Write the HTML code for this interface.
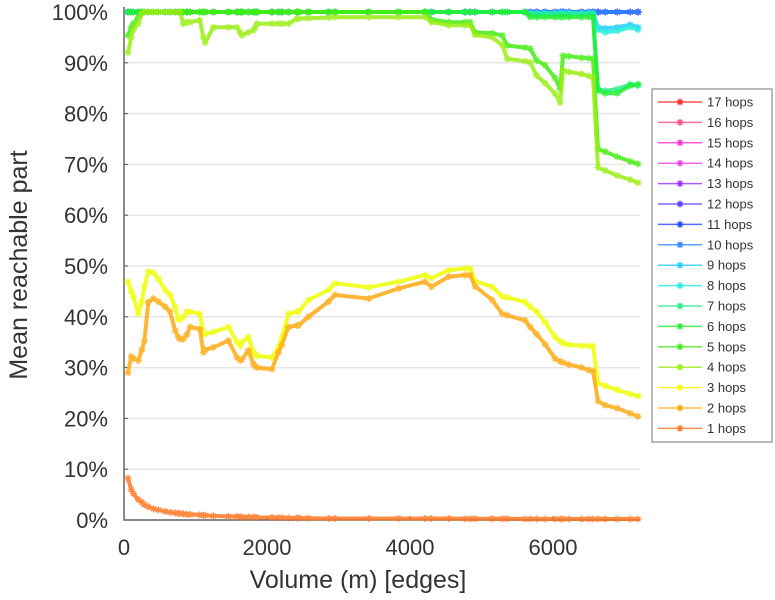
<!DOCTYPE html>
<html><head><meta charset="utf-8"><style>
html,body{margin:0;padding:0;background:#fff;}
svg{display:block;font-family:"Liberation Sans",sans-serif;}
</style></head><body>
<svg id="chart" width="775" height="600"></svg>
<script>
const volumes=[56,100,130,200,250,285,340,410,480,575,645,715,760,785,830,880,925,1060,1110,1135,1250,1460,1580,1625,1650,1740,1810,1835,1860,2070,2160,2210,2300,2420,2440,2580,2860,2950,3420,3840,4210,4300,4540,4770,4840,4910,5150,5290,5360,5610,5680,5770,5890,6030,6100,6140,6220,6400,6500,6560,6630,6730,6900,7080,7190];
const hops1=[8.2,6,5.2,4,3.5,3,2.6,2.2,2,1.7,1.5,1.4,1.3,1.3,1.2,1.1,1.1,1,0.9,0.9,0.8,0.7,0.7,0.6,0.6,0.6,0.55,0.55,0.5,0.5,0.45,0.45,0.4,0.4,0.4,0.35,0.3,0.3,0.3,0.3,0.3,0.3,0.3,0.25,0.25,0.25,0.25,0.25,0.25,0.2,0.2,0.2,0.2,0.2,0.2,0.2,0.2,0.2,0.2,0.2,0.2,0.2,0.2,0.2,0.2];
const hops2=[29,32.2,31.8,31.4,33.5,35.3,42.9,43.6,43,42,41,37.3,36,35.6,35.6,36.5,38,37.6,33,33.5,34,35.3,32,31.4,31.6,33.4,30.7,30.3,30,29.7,33,34.5,38,38.3,38.3,40,43,44.3,43.6,45.6,46.9,45.9,47.9,48.2,48.2,46,43.3,40.6,40.3,39.3,38,36.6,34.6,31.8,31.2,31,30.6,30,29.5,29.3,23.4,22.6,22,21,20.4];
const hops3=[46.9,45,44,40.6,43,46,48.9,48.7,47.5,45.3,44.3,42,39.5,39.5,40,41,41,40.6,37,36.6,37,38,35,34.3,35,36,33,32.6,32.3,32,34,36,40.6,41,41,43.3,45.3,46.6,45.8,46.9,48.2,47.6,49.2,49.5,49.5,47,45.9,44,43.8,42.9,42,41,38.9,36,35.2,34.8,34.5,34.3,34.3,34.2,27,26.4,25.6,24.8,24.4];
const hops4=[92,95,96.5,97.7,99.7,100,100,100,100,100,100,100,100,100,97.7,98,98,98.4,95,94,97,97,97,96,95.4,96,96.4,97,97.7,97.7,97.7,97.7,97.7,98.7,98.7,98.8,98.9,99,99,99,99,98,97.4,97.4,97.4,95.5,95,93.5,90.8,90.3,90.1,87.5,86,83.9,82.2,88.5,88.2,87.8,87.4,87.2,69.4,68.8,67.8,67,66.4];
const hops5=[95.4,97,97.7,99,100,100,100,100,100,100,100,100,100,100,100,100,100,100,100,100,100,100,100,100,100,100,100,100,100,100,100,100,100,100,100,100,100,100,100,100,100,98.5,98,98,98,96,95.8,95.4,93.4,93,92.8,90.5,89.5,87,84.9,91.4,91.3,91,90.9,90.8,73,72.5,71.5,70.6,70.1];
const hops6=[100,100,100,100,100,100,100,100,100,100,100,100,100,100,100,100,100,100,100,100,100,100,100,100,100,100,100,100,100,100,100,100,100,100,100,100,100,100,100,100,100,100,100,100,100,100,100,100,100,100,99,99,99,99,99,99,99,99,99,99,84.5,84,84,85.5,85.8];
const hops7=[100,100,100,100,100,100,100,100,100,100,100,100,100,100,100,100,100,100,100,100,100,100,100,100,100,100,100,100,100,100,100,100,100,100,100,100,100,100,100,100,100,100,100,100,100,100,100,100,100,100,99.5,99.5,99.5,99.5,99.5,99.5,99.5,99.5,99.5,99.5,84.8,84.5,84.8,85.8,85.5];
const hops8=[100,100,100,100,100,100,100,100,100,100,100,100,100,100,100,100,100,100,100,100,100,100,100,100,100,100,100,100,100,100,100,100,100,100,100,100,100,100,100,100,100,100,100,100,100,100,100,100,100,100,99.7,99.7,99.7,99.7,99.7,99.7,99.7,99.7,99.7,99.7,96.5,96,96.3,97,96.5];
const hops9=[100,100,100,100,100,100,100,100,100,100,100,100,100,100,100,100,100,100,100,100,100,100,100,100,100,100,100,100,100,100,100,100,100,100,100,100,100,100,100,100,100,100,100,100,100,100,100,100,100,100,99.8,99.8,99.8,99.8,99.8,99.8,99.8,99.8,99.8,99.8,97,96.8,97,97.5,97];
const hops10=[100,100,100,100,100,100,100,100,100,100,100,100,100,100,100,100,100,100,100,100,100,100,100,100,100,100,100,100,100,100,100,100,100,100,100,100,100,100,100,100,100,100,100,100,100,100,100,100,100,100,100,100,100,100,100,100,100,100,100,100,100,100,100,100,100];
const hops11=hops10.slice();
const hops12=hops10.slice();
const hops13=hops10.slice();
const hops14=hops10.slice();
const hops15=hops10.slice();
const hops16=hops10.slice();
const hops17=hops10.slice();
const seriesLabels=["17 hops","16 hops","15 hops","14 hops","13 hops","12 hops","11 hops","10 hops","9 hops","8 hops","7 hops","6 hops","5 hops","4 hops","3 hops","2 hops","1 hops"];
const seriesData=[hops17,hops16,hops15,hops14,hops13,hops12,hops11,hops10,hops9,hops8,hops7,hops6,hops5,hops4,hops3,hops2,hops1];
const seriesColors=["#ff2a2a","#ff4d88","#ff33cc","#ee44ee","#9933ff","#5544ff","#2244ff","#3388ff","#22ccff","#22eedd","#22ee88","#22ee33","#44ee11","#99ee11","#eeff00","#ffaa11","#ff7722"];
const xTicks=[0,2000,4000,6000];
const yTicks=[0,10,20,30,40,50,60,70,80,90,100];

const NS="http://www.w3.org/2000/svg";
const svg=document.getElementById('chart');
const X0=124,Y0=520;
function xs(v){return X0+v*0.0715;}
function ys(p){return Y0-p*5.08;}
function mk(tag,attrs,parent){const e=document.createElementNS(NS,tag);for(const k in attrs)e.setAttribute(k,attrs[k]);(parent||svg).appendChild(e);return e;}

const grid=mk('g',{});


yTicks.forEach(t=>{
  const l=mk('line',{x1:X0,x2:640,y1:ys(t),y2:ys(t),stroke:'#e6e6e6','stroke-width':1.5},grid);
  
  
  mk('line',{x1:X0,x2:X0+4,y1:ys(t),y2:ys(t),stroke:'#555','stroke-width':1},grid);
  const tx=mk('text',{x:108,y:ys(t)+8,'text-anchor':'end','font-size':22,fill:'#333'},grid);
  tx.textContent=t+'%';
  
  
});
xTicks.forEach(t=>{
  const tx=mk('text',{x:xs(t),y:555,'text-anchor':'middle','font-size':22,fill:'#333'},grid);
  tx.textContent=t;
  
  
  mk('line',{x1:xs(t),x2:xs(t),y1:Y0,y2:Y0-4,stroke:'#555','stroke-width':1},grid);
});
const ax=mk('path',{d:`M${X0} ${ys(101)} V${Y0} H640`,fill:'none',stroke:'#666','stroke-width':1.5});



function star(g,x,y,c,r){
  mk('path',{d:`M${x-r} ${y}H${x+r}M${x} ${y-r}V${y+r}M${x-r*0.7} ${y-r*0.7}L${x+r*0.7} ${y+r*0.7}M${x-r*0.7} ${y+r*0.7}L${x+r*0.7} ${y-r*0.7}`,stroke:c,'stroke-width':1.3},g);
}
seriesData.forEach((arr,i)=>{
  const g=mk('g',{opacity:0.85});
  
  
  const d=arr.map((v,j)=>(j?'L':'M')+xs(volumes[j]).toFixed(1)+' '+ys(v).toFixed(1)).join('');
  mk('path',{d:d,fill:'none',stroke:seriesColors[i],'stroke-width':4,'stroke-linejoin':'round'},g);
  arr.forEach((v,j)=>star(g,xs(volumes[j]),ys(v),seriesColors[i],3.5));
});

const yl=mk('text',{x:0,y:0,transform:'translate(27,265) rotate(-90)','text-anchor':'middle','font-size':25,fill:'#333'});
yl.textContent='Mean reachable part';


const xl=mk('text',{x:358,y:588,'text-anchor':'middle','font-size':25,fill:'#333'});
xl.textContent='Volume (m) [edges]';



const lg=mk('g',{});


mk('rect',{x:652,y:89,width:120,height:353,fill:'#fff',stroke:'#888','stroke-width':1.2},lg);
seriesLabels.forEach((lab,i)=>{
  const y=102+i*20.4;
  const e=mk('g',{},lg);
  
  
  mk('line',{x1:658,x2:702,y1:y,y2:y,stroke:seriesColors[i],'stroke-width':1.5,opacity:0.8},e);
  star(e,680,y,seriesColors[i],3.5);
  const t=mk('text',{x:707,y:y+4.5,'font-size':13,fill:'#333'},e);
  t.textContent=lab;
});
</script>
</body></html>
